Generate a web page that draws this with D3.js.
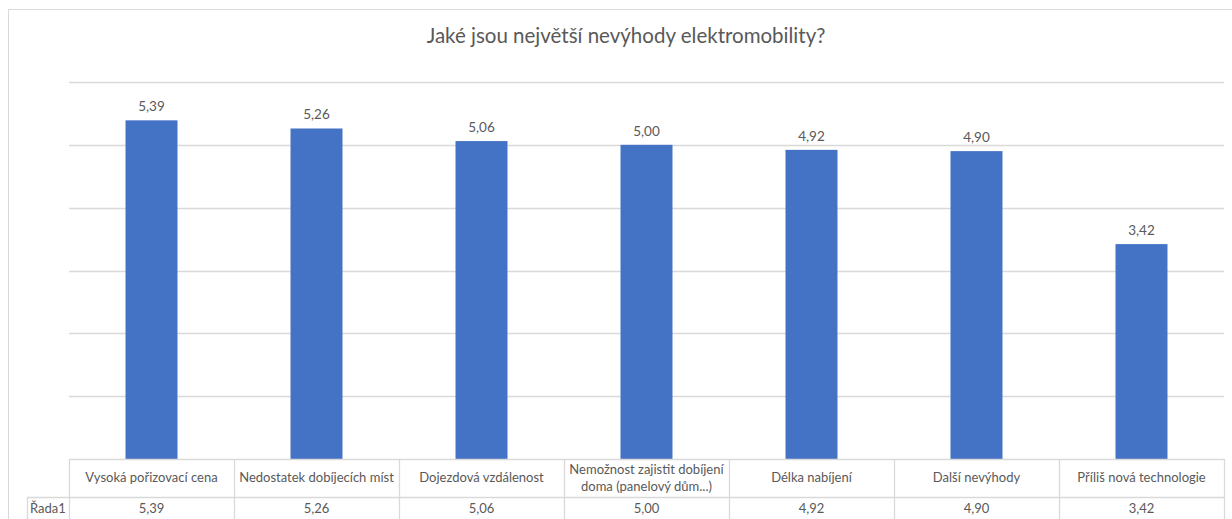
<!DOCTYPE html>
<html>
<head>
<meta charset="utf-8">
<script src="https://cdn.jsdelivr.net/npm/d3@7"></script>
<style>
  body { margin: 0; background: #fff; }
  svg text { font-family: Lato, "Open Sans", sans-serif; fill: #595959; }
</style>
</head>
<body>
<svg id="chart" width="1232" height="519"></svg>
<script>
var title = "Jaké jsou největší nevýhody elektromobility?";
var categories = [
  ["Vysoká pořizovací cena"],
  ["Nedostatek dobíjecích míst"],
  ["Dojezdová vzdálenost"],
  ["Nemožnost zajistit dobíjení", "doma (panelový dům...)"],
  ["Délka nabíjení"],
  ["Další nevýhody"],
  ["Příliš nová technologie"]
];
var values = [5.39, 5.26, 5.06, 5.00, 4.92, 4.90, 3.42];
var seriesName = "Řada1";
var yTicks = [0, 1, 2, 3, 4, 5, 6];

var fmt = function (v) { return v.toFixed(2).replace(".", ","); };

var svg = d3.select("#chart");
var gridColor = "#d9d9d9";

// outer chart frame (runs off the right edge)
svg.append("rect")
  .attr("x", 8.5).attr("y", 9.5)
  .attr("width", 1240).attr("height", 530)
  .attr("fill", "#fff")
  .attr("stroke", gridColor)
  .attr("stroke-width", 1);

svg.append("text")
  .attr("x", 626).attr("y", 43)
  .attr("text-anchor", "middle")
  .attr("font-size", 20.5)
  .text(title);

var plotLeft = 69, plotRight = 1224, plotTop = 82, plotBottom = 459;

var x = d3.scaleBand()
  .domain(d3.range(categories.length))
  .range([plotLeft, plotRight])
  .padding(0);

var y = d3.scaleLinear()
  .domain([0, 6])
  .range([plotBottom, plotTop]);

// gridlines
svg.append("g").selectAll("line")
  .data(yTicks.slice(1))
  .join("line")
  .attr("x1", plotLeft).attr("x2", plotRight)
  .attr("y1", function (d) { return Math.round(y(d)) + 0.5; })
  .attr("y2", function (d) { return Math.round(y(d)) + 0.5; })
  .attr("stroke", gridColor)
  .attr("stroke-width", 1.3);

var barW = x.bandwidth() * 0.315;

svg.append("g").selectAll("rect")
  .data(values)
  .join("rect")
  .attr("x", function (d, i) { return x(i) + (x.bandwidth() - barW) / 2; })
  .attr("y", function (d) { return y(d); })
  .attr("width", barW)
  .attr("height", function (d) { return y(0) - y(d); })
  .attr("fill", "#4472c4");

svg.append("g").selectAll("text")
  .data(values)
  .join("text")
  .attr("x", function (d, i) { return x(i) + x.bandwidth() / 2; })
  .attr("y", function (d) { return y(d) - 9; })
  .attr("text-anchor", "middle")
  .attr("font-size", 13.5)
  .text(fmt);

// data table
var headTop = 459, rowTop = 497, tableBottom = 530, labelLeft = 27;
var table = svg.append("g");

function hline(x1, x2, yy) {
  table.append("line")
    .attr("x1", x1).attr("x2", x2)
    .attr("y1", yy + 0.5).attr("y2", yy + 0.5)
    .attr("stroke", gridColor).attr("stroke-width", 1.3);
}
function vline(xx, y1, y2) {
  table.append("line")
    .attr("x1", xx + 0.5).attr("x2", xx + 0.5)
    .attr("y1", y1).attr("y2", y2)
    .attr("stroke", gridColor).attr("stroke-width", 1.3);
}

hline(plotLeft, plotRight, headTop);
hline(labelLeft, plotRight, rowTop);
vline(labelLeft, rowTop, tableBottom);
d3.range(categories.length + 1).forEach(function (i) {
  var xx = i < categories.length ? x(i) : plotRight;
  vline(Math.round(xx), headTop, tableBottom);
});

table.selectAll("text.cat")
  .data(categories)
  .join("text")
  .attr("class", "cat")
  .attr("text-anchor", "middle")
  .attr("font-size", 13)
  .each(function (lines, i) {
    var t = d3.select(this);
    var cx = x(i) + x.bandwidth() / 2;
    var y0 = lines.length === 1 ? 482 : 474;
    lines.forEach(function (s, k) {
      t.append("tspan").attr("x", cx).attr("y", y0 + k * 17).text(s);
    });
  });

table.selectAll("text.val")
  .data(values)
  .join("text")
  .attr("class", "val")
  .attr("x", function (d, i) { return x(i) + x.bandwidth() / 2; })
  .attr("y", 513)
  .attr("text-anchor", "middle")
  .attr("font-size", 13)
  .text(fmt);

table.append("text")
  .attr("x", labelLeft + 3).attr("y", 513)
  .attr("font-size", 13)
  .text(seriesName);
</script>
</body>
</html>
